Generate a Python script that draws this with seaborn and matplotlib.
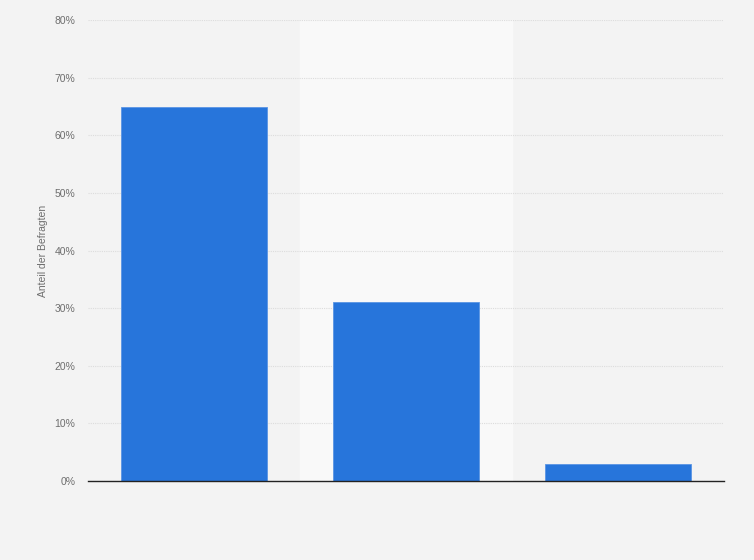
import matplotlib
matplotlib.use("Agg")
import matplotlib.pyplot as plt
import seaborn as sns
import pandas as pd
from matplotlib.ticker import FuncFormatter

# categories have no visible labels in the chart
categories = ["Kategorie 1", "Kategorie 2", "Kategorie 3"]
shares = [65, 31, 3]
yticks = [0, 10, 20, 30, 40, 50, 60, 70, 80]

df = pd.DataFrame({"Kategorie": categories, "Anteil": shares})

sns.set_theme(style="white")
plt.rcParams["font.family"] = ["Liberation Sans", "DejaVu Sans"]

fig = plt.figure(figsize=(7.54, 5.6), dpi=100)
fig.patch.set_facecolor("#f3f3f3")
ax = fig.add_axes([0.1167, 0.141, 0.8435, 0.823])
ax.set_facecolor("#f3f3f3")

# lighter band behind the middle category
ax.axvspan(0.5, 1.5, color="#f9f9f9", zorder=0)

sns.barplot(data=df, x="Kategorie", y="Anteil", color="#2775db",
            width=0.69, saturation=1, ax=ax, zorder=3,
            edgecolor="#5a95e4", linewidth=0.6)

ax.set_xlim(-0.5, 2.5)
ax.set_ylim(0, 80)
ax.set_yticks(yticks)
ax.yaxis.set_major_formatter(FuncFormatter(lambda v, p: f"{v:.0f}%"))
ax.grid(axis="y", color="#dcdcdc", linestyle=(0, (1, 1)), linewidth=0.8, zorder=1)
ax.set_axisbelow(True)

for s in ["top", "right", "left"]:
    ax.spines[s].set_visible(False)
ax.spines["bottom"].set_color("#222222")
ax.spines["bottom"].set_linewidth(1.0)
ax.spines["bottom"].set_zorder(4)

ax.set_xticks(range(len(categories)))
ax.set_xticklabels([])
ax.tick_params(axis="x", length=0)
ax.tick_params(axis="y", length=0, labelsize=7.5, labelcolor="#6e6e6e", pad=9)
ax.set_xlabel("")
ax.set_ylabel("Anteil der Befragten", fontsize=7.5, color="#6e6e6e", labelpad=5)

fig.savefig("out.png", dpi=100, facecolor=fig.get_facecolor())
